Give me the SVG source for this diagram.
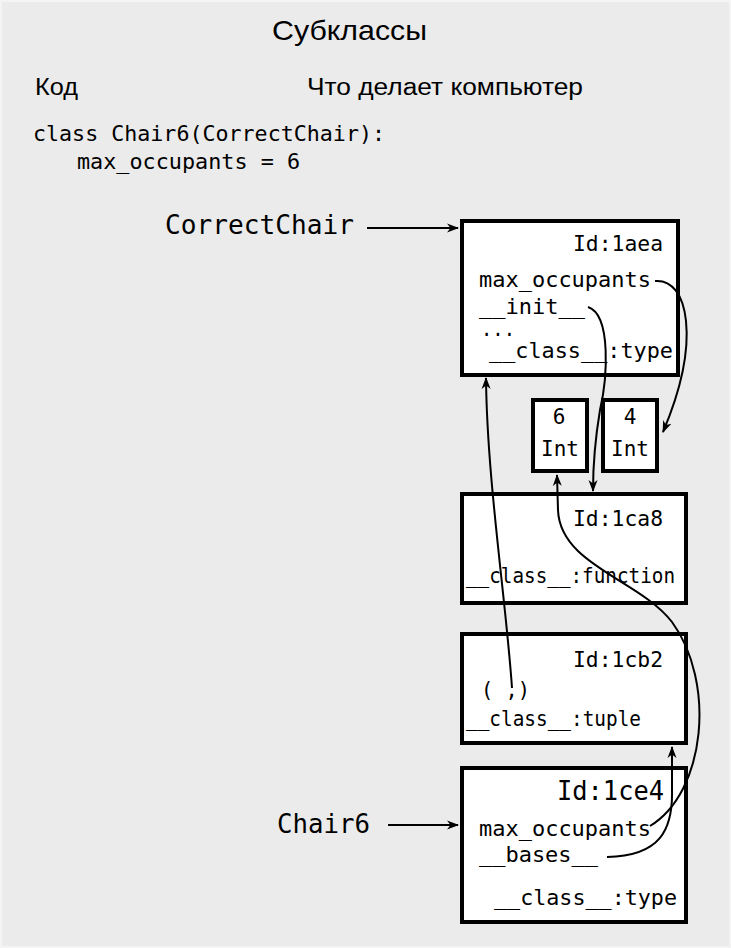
<svg xmlns="http://www.w3.org/2000/svg" width="731" height="948" viewBox="0 0 731 948">
<defs>
<marker id="ah" markerWidth="12" markerHeight="10" refX="11" refY="5" orient="auto" markerUnits="userSpaceOnUse">
<path d="M0,0.5 L12,5 L0,9.5 L3.5,5 z" fill="#000"/>
</marker>
<style>
.bg{fill:#ebebeb}
.box{fill:#fff;stroke:#000;stroke-width:4}
.sans{font-family:"Liberation Sans","Arial",sans-serif;fill:#000}
.mono{font-family:"DejaVu Sans Mono","Liberation Mono",monospace;fill:#000;font-size:21px}
.big{font-size:26px}
.conn{fill:none;stroke:#000;stroke-width:2}
</style>
</defs>
<rect class="bg" x="0" y="0" width="731" height="948"/>
<rect x="1" y="1" width="729" height="946" fill="none" stroke="#f4f4f4" stroke-width="2"/>

<g id="header">
<text class="sans" x="272" y="40" font-size="28" textLength="155" lengthAdjust="spacingAndGlyphs">Субклассы</text>
<text class="sans" x="35" y="95" font-size="23" textLength="43" lengthAdjust="spacingAndGlyphs">Код</text>
<text class="sans" x="307" y="95" font-size="23" textLength="276" lengthAdjust="spacingAndGlyphs">Что делает компьютер</text>
</g>

<g id="code">
<text class="mono" x="33" y="141" textLength="352" lengthAdjust="spacingAndGlyphs">class Chair6(CorrectChair):</text>
<text class="mono" x="77" y="169" textLength="223" lengthAdjust="spacingAndGlyphs">max_occupants = 6</text>
</g>

<g id="label-correctchair">
<text class="mono big" x="165" y="234" textLength="189" lengthAdjust="spacingAndGlyphs">CorrectChair</text>
</g>
<g id="label-chair6">
<text class="mono big" x="277" y="833" textLength="93" lengthAdjust="spacingAndGlyphs">Chair6</text>
</g>

<g id="node-1aea">
<rect class="box" x="462" y="221" width="216" height="154"/>
<text class="mono" x="573" y="251" textLength="90" lengthAdjust="spacingAndGlyphs">Id:1aea</text>
<text class="mono" x="479" y="287" textLength="172" lengthAdjust="spacingAndGlyphs">max_occupants</text>
<text class="mono" x="479" y="314" textLength="106" lengthAdjust="spacingAndGlyphs">__init__</text>
<text class="mono" x="481" y="336" font-size="18" textLength="34" lengthAdjust="spacingAndGlyphs">...</text>
<text class="mono" x="489" y="358" textLength="184" lengthAdjust="spacingAndGlyphs">__class__:type</text>
</g>

<g id="node-int6">
<rect class="box" x="533" y="400" width="54" height="71"/>
<text class="mono" x="559" y="424" text-anchor="middle">6</text>
<text class="mono" x="560" y="456" text-anchor="middle">Int</text>
</g>
<g id="node-int4">
<rect class="box" x="603" y="400" width="54" height="71"/>
<text class="mono" x="630" y="424" text-anchor="middle">4</text>
<text class="mono" x="630" y="456" text-anchor="middle">Int</text>
</g>

<g id="node-1ca8">
<rect class="box" x="462" y="494" width="224" height="109"/>
<text class="mono" x="573" y="526" textLength="90" lengthAdjust="spacingAndGlyphs">Id:1ca8</text>
<text class="mono" x="466" y="583" textLength="209" lengthAdjust="spacingAndGlyphs">__class__:function</text>
</g>

<g id="node-1cb2">
<rect class="box" x="462" y="634" width="224" height="109"/>
<text class="mono" x="573" y="667" textLength="90" lengthAdjust="spacingAndGlyphs">Id:1cb2</text>
<text class="mono" x="481" y="697" textLength="49" lengthAdjust="spacingAndGlyphs">( ,)</text>
<text class="mono" x="466" y="726" textLength="175" lengthAdjust="spacingAndGlyphs">__class__:tuple</text>
</g>

<g id="node-1ce4">
<rect class="box" x="462" y="768" width="224" height="154"/>
<text class="mono big" x="557" y="800" textLength="107" lengthAdjust="spacingAndGlyphs">Id:1ce4</text>
<text class="mono" x="479" y="836" textLength="172" lengthAdjust="spacingAndGlyphs">max_occupants</text>
<text class="mono" x="479" y="862" textLength="119" lengthAdjust="spacingAndGlyphs">__bases__</text>
<text class="mono" x="494" y="905" textLength="183" lengthAdjust="spacingAndGlyphs">__class__:type</text>
</g>

<g id="connectors">
<path class="conn" d="M367,228 L458,228" marker-end="url(#ah)"/>
<path class="conn" d="M388,825 L458,825" marker-end="url(#ah)"/>
<path class="conn" d="M655,281 C688,278 702,340 663,432" marker-end="url(#ah)"/>
<path class="conn" d="M588,307 C612,315 607,380 600,410 C595,440 593,470 593,491" marker-end="url(#ah)"/>
<path class="conn" d="M512,688 C506,600 487,480 486,378" marker-end="url(#ah)"/>
<path class="conn" d="M650,826 C706,792 716,682 672,622 C640,580 560,565 558,510 L557,475" marker-end="url(#ah)"/>
<path class="conn" d="M607,857 C660,856 673,830 672,790 L672,747" marker-end="url(#ah)"/>
</g>
</svg>
